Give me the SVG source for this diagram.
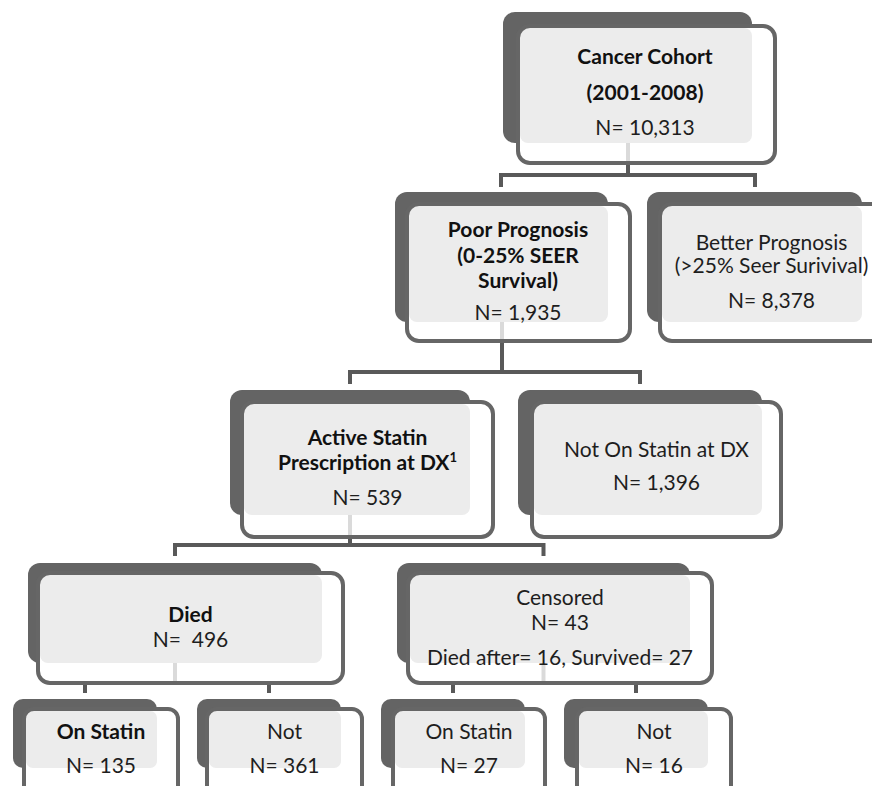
<svg xmlns="http://www.w3.org/2000/svg" width="872" height="786" viewBox="0 0 872 786">
<style>
.back{fill:#646464}
.ffill{fill:#ffffff}
.inner{fill:#ececec}
.fstroke{fill:none;stroke:#666666;stroke-width:4}
.stub{stroke:#dadada;stroke-width:4}
.conn{fill:none;stroke:#595959;stroke-width:4}
text{font-family:Lato,"Liberation Sans",sans-serif;font-size:21px;fill:#1e1e1e;text-anchor:middle}
.b{font-weight:700;fill:#111}
</style>
<rect width="872" height="786" fill="#ffffff"/>
<g id="connectors">
<path class="conn" d="M628,163 V175 M501,187 V175 H755 V187"/>
<path class="conn" d="M502,341 V372 M350,384 V372 H640 V384"/>
<path class="conn" d="M350,537 V545 M175,556 V545 H543.5 V556"/>
<path class="conn" d="M85,683 V693 M269,683 V693 M453,683 V693 M636,683 V693"/>
</g>
<g id="cohort">
<rect class="back" x="503" y="12" width="249" height="131" rx="12"/>
<rect class="ffill" x="518" y="26" width="257" height="137" rx="12"/>
<rect class="inner" x="520" y="28" width="232" height="115" rx="8"/>
<rect class="fstroke" x="518" y="26" width="257" height="137" rx="12"/>
<line class="stub" x1="628" y1="143" x2="628" y2="161"/>
<text class="b" x="645" y="64">Cancer Cohort</text>
<text class="b" x="645" y="100">(2001-2008)</text>
<text x="645" y="135">N= 10,313</text>
</g>
<g id="poor">
<rect class="back" x="395" y="192" width="213" height="130" rx="12"/>
<rect class="ffill" x="407" y="204" width="223" height="137" rx="12"/>
<rect class="inner" x="409" y="206" width="199" height="116" rx="8"/>
<rect class="fstroke" x="407" y="204" width="223" height="137" rx="12"/>
<line class="stub" x1="502" y1="322" x2="502" y2="339"/>
<text class="b" x="518" y="237">Poor Prognosis</text>
<text class="b" x="518" y="263">(0-25% SEER</text>
<text class="b" x="518" y="288">Survival)</text>
<text x="518" y="320">N= 1,935</text>
</g>
<g id="better">
<rect class="back" x="647" y="192" width="215" height="130" rx="12"/>
<rect class="ffill" x="660" y="204" width="223" height="137" rx="12"/>
<rect class="inner" x="662" y="206" width="200" height="116" rx="8"/>
<rect class="fstroke" x="660" y="204" width="223" height="137" rx="12"/>
<text x="771.5" y="250">Better Prognosis</text>
<text x="771.5" y="273">(&gt;25% Seer Surivival)</text>
<text x="771.5" y="308">N= 8,378</text>
</g>
<g id="active">
<rect class="back" x="230" y="390" width="240" height="125" rx="12"/>
<rect class="ffill" x="242" y="402" width="251" height="135" rx="12"/>
<rect class="inner" x="244" y="404" width="226" height="111" rx="8"/>
<rect class="fstroke" x="242" y="402" width="251" height="135" rx="12"/>
<line class="stub" x1="350" y1="515" x2="350" y2="535"/>
<text class="b" x="367.5" y="445">Active Statin</text>
<text class="b" x="367.5" y="470">Prescription at DX<tspan font-size="13" dy="-8">1</tspan></text>
<text x="367.5" y="505">N= 539</text>
</g>
<g id="notOn">
<rect class="back" x="518" y="390" width="244" height="125" rx="12"/>
<rect class="ffill" x="532" y="402" width="249" height="135" rx="12"/>
<rect class="inner" x="534" y="404" width="228" height="111" rx="8"/>
<rect class="fstroke" x="532" y="402" width="249" height="135" rx="12"/>
<text x="656.5" y="457">Not On Statin at DX</text>
<text x="656.5" y="490">N= 1,396</text>
</g>
<g id="died">
<rect class="back" x="28" y="563" width="294" height="100" rx="12"/>
<rect class="ffill" x="38" y="573" width="305" height="110" rx="12"/>
<rect class="inner" x="40" y="575" width="282" height="88" rx="8"/>
<rect class="fstroke" x="38" y="573" width="305" height="110" rx="12"/>
<line class="stub" x1="175" y1="663" x2="175" y2="681"/>
<text class="b" x="190.5" y="622">Died</text>
<text x="190.5" y="647" xml:space="preserve">N=  496</text>
</g>
<g id="censored">
<rect class="back" x="397" y="563" width="293" height="100" rx="12"/>
<rect class="ffill" x="408" y="573" width="304" height="110" rx="12"/>
<rect class="inner" x="410" y="575" width="280" height="88" rx="8"/>
<rect class="fstroke" x="408" y="573" width="304" height="110" rx="12"/>
<line class="stub" x1="543.5" y1="663" x2="543.5" y2="681"/>
<text x="560" y="605">Censored</text>
<text x="560" y="630">N= 43</text>
<text x="560" y="665">Died after= 16, Survived= 27</text>
</g>
<g id="diedOnStatin">
<rect class="back" x="13" y="699" width="144" height="69" rx="10"/>
<rect class="ffill" x="24" y="709" width="154" height="95" rx="10"/>
<rect class="inner" x="26" y="711" width="131" height="57" rx="7"/>
<rect class="fstroke" x="24" y="709" width="154" height="95" rx="10"/>
<text class="b" x="101" y="739">On Statin</text>
<text x="101" y="773">N= 135</text>
</g>
<g id="diedNot">
<rect class="back" x="197" y="699" width="144" height="69" rx="10"/>
<rect class="ffill" x="207" y="709" width="155" height="95" rx="10"/>
<rect class="inner" x="209" y="711" width="132" height="57" rx="7"/>
<rect class="fstroke" x="207" y="709" width="155" height="95" rx="10"/>
<text x="284.5" y="739">Not</text>
<text x="284.5" y="773">N= 361</text>
</g>
<g id="censOnStatin">
<rect class="back" x="381" y="699" width="144" height="69" rx="10"/>
<rect class="ffill" x="393" y="709" width="152" height="95" rx="10"/>
<rect class="inner" x="395" y="711" width="130" height="57" rx="7"/>
<rect class="fstroke" x="393" y="709" width="152" height="95" rx="10"/>
<text x="469" y="739">On Statin</text>
<text x="469" y="773">N= 27</text>
</g>
<g id="censNot">
<rect class="back" x="564" y="699" width="144" height="69" rx="10"/>
<rect class="ffill" x="577" y="709" width="154" height="95" rx="10"/>
<rect class="inner" x="579" y="711" width="129" height="57" rx="7"/>
<rect class="fstroke" x="577" y="709" width="154" height="95" rx="10"/>
<text x="654" y="739">Not</text>
<text x="654" y="773">N= 16</text>
</g>
</svg>
